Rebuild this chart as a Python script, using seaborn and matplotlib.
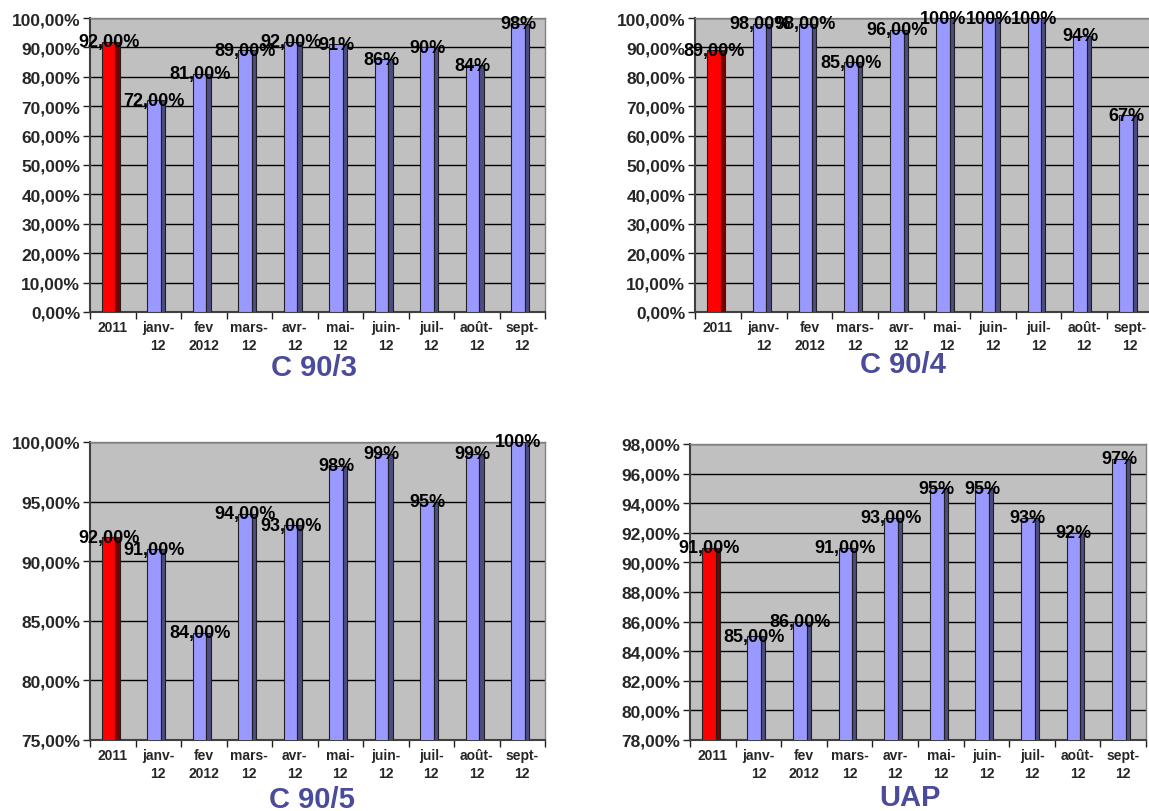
import matplotlib
matplotlib.use("Agg")
import numpy as np
import matplotlib.pyplot as plt
import seaborn as sns
from matplotlib.patches import Rectangle
from matplotlib.ticker import FuncFormatter, FixedLocator

# ---------------- data ----------------
categories = ["2011", "janv-\n12", "fev\n2012", "mars-\n12", "avr-\n12",
              "mai-\n12", "juin-\n12", "juil-\n12", "août-\n12", "sept-\n12"]
c90_3 = [92, 72, 81, 89, 92, 91, 86, 90, 84, 98]
c90_4 = [89, 98, 98, 85, 96, 100, 100, 100, 94, 67]
c90_5 = [92, 91, 84, 94, 93, 98, 99, 95, 99, 100]
uap = [91, 85, 86, 91, 93, 95, 95, 93, 92, 97]
label_decimals = [2, 2, 2, 2, 2, 0, 0, 0, 0, 0]
titles = ["C 90/3", "C 90/4", "C 90/5", "UAP"]

# ---------------- style ----------------
sns.set_theme(style="white")
plt.rcParams['font.family'] = ['Liberation Sans', 'DejaVu Sans']
plt.rcParams['font.weight'] = 'bold'

face_colors = ['#FF0000'] + ['#9999FF'] * 9
side_colors = ['#7A0000'] + ['#4C4C80'] * 9
title_color = '#4B4B9B'

fig = plt.figure(figsize=(11.49, 8.12), dpi=100)

panels = [
    (c90_3, [90/1149, 1-313/812, 455/1149, 294/812], 0, 100, 10, (314/1149, 1-368/812)),
    (c90_4, [695/1149, 1-313/812, 458/1149, 294/812], 0, 100, 10, (903/1149, 1-365/812)),
    (c90_5, [90/1149, 1-741/812, 455/1149, 298/812], 75, 100, 5, (312/1149, 1-800/812)),
    (uap,   [690/1149, 1-741/812, 456/1149, 296/812], 78, 98, 2, (910/1149, 1-798/812)),
]


def pct_fmt(v, pos):
    return f"{v:.2f}".replace('.', ',') + "%"


def value_label(v, d):
    if d == 0:
        return f"{v:.0f}%"
    return f"{v:.{d}f}".replace('.', ',') + "%"


for (vals, rect, ymin, ymax, step, tpos), title in zip(panels, titles):
    ax = fig.add_axes(rect)
    ax.set_facecolor('#C0C0C0')
    sns.barplot(x=categories, y=vals, hue=categories, palette=face_colors,
                width=0.30, saturation=1, legend=False, ax=ax,
                edgecolor='#202020', linewidth=0.8, zorder=3)
    ax.set_xlim(-0.5, len(categories) - 0.5)
    ax.set_ylim(ymin, ymax)
    ax.set_yticks(np.arange(ymin, ymax + step / 2, step))
    ax.yaxis.set_major_formatter(FuncFormatter(pct_fmt))
    ax.grid(axis='y', color='black', linewidth=1)
    ax.grid(axis='x', visible=False)
    ax.set_axisbelow(True)

    patches = list(ax.patches)
    for p, sc, v, d in zip(patches, side_colors, vals, label_decimals):
        x, w = p.get_x(), p.get_width()
        p.set_x(x - 0.09)
        x = p.get_x()
        side = Rectangle((x + w, p.get_y()), 0.09, p.get_height(),
                         facecolor=sc, edgecolor='#202020', linewidth=0.8, zorder=3)
        ax.add_patch(side)
        ax.text(x + w / 2, v, value_label(v, d), ha='center', va='center',
                fontsize=13, fontweight='bold', color='black', zorder=6,
                clip_on=False)

    ax.xaxis.set_minor_locator(FixedLocator(np.arange(-0.5, len(categories), 1)))
    ax.tick_params(axis='x', which='major', length=0, pad=6, labelsize=10)
    ax.tick_params(axis='x', which='minor', length=5, width=1, bottom=True, color='#202020')
    ax.tick_params(axis='y', which='major', length=5, width=1, left=True,
                   color='#202020', labelsize=12.5, pad=2)
    for lab in ax.get_xticklabels():
        lab.set_fontweight('bold')
        lab.set_linespacing(1.3)
    for lab in ax.get_yticklabels():
        lab.set_fontweight('bold')
    ax.set_xlabel('')
    ax.set_ylabel('')
    for s in ['left', 'bottom']:
        ax.spines[s].set_color('#404040')
        ax.spines[s].set_linewidth(1.5)
    for s in ['top', 'right']:
        ax.spines[s].set_color('#808080')
        ax.spines[s].set_linewidth(1)

    fig.text(tpos[0], tpos[1], title, ha='center', va='center',
             fontsize=21, fontweight='bold', color=title_color,
             family=['Liberation Sans Narrow', 'Liberation Sans', 'DejaVu Sans'])

fig.savefig("out.png", dpi=100)
